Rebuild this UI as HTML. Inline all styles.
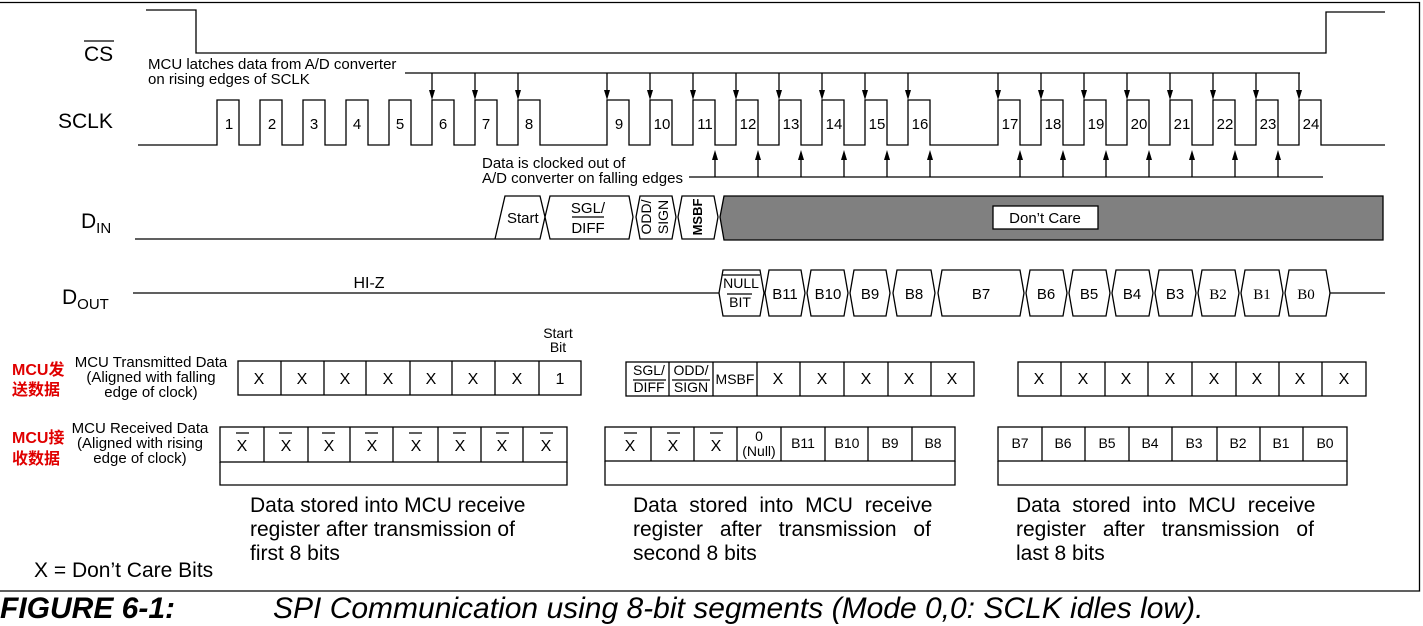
<!DOCTYPE html>
<html><head><meta charset="utf-8"><style>
html,body{margin:0;padding:0;background:#fff;}
svg{display:block;font-family:"Liberation Sans",Arial,sans-serif;}
</style></head><body>
<svg width="1423" height="626" viewBox="0 0 1423 626" xmlns="http://www.w3.org/2000/svg">
<g stroke="#000" stroke-width="1.3" fill="none">
<path d="M0,2.5 H1419.5 V591 H0"/>
<path d="M146,10 H196 V53 H1326 V12 H1385"/>
<path d="M138,145 H217 V100 H239 V145 H260 V100 H282 V145 H303 V100 H325 V145 H346 V100 H368 V145 H389 V100 H411 V145 H432 V100 H454 V145 H475 V100 H497 V145 H518 V100 H540 V145 H607 V100 H629 V145 H650 V100 H672 V145 H693 V100 H715 V145 H736 V100 H758 V145 H779 V100 H801 V145 H822 V100 H844 V145 H865 V100 H887 V145 H908 V100 H930 V145 H998 V100 H1020 V145 H1041 V100 H1063 V145 H1084 V100 H1106 V145 H1127 V100 H1149 V145 H1170 V100 H1192 V145 H1213 V100 H1235 V145 H1256 V100 H1278 V145 H1299 V100 H1321 V145 H1385"/>
<path d="M405,73 H1300 M432,73 V92 M475,73 V92 M518,73 V92 M607,73 V92 M650,73 V92 M693,73 V92 M736,73 V92 M779,73 V92 M822,73 V92 M865,73 V92 M908,73 V92 M998,73 V92 M1041,73 V92 M1084,73 V92 M1127,73 V92 M1170,73 V92 M1213,73 V92 M1256,73 V92 M1299,73 V92"/>
<path d="M689,177 H1323 M715,177 V158 M758,177 V158 M801,177 V158 M844,177 V158 M887,177 V158 M930,177 V158 M1020,177 V158 M1063,177 V158 M1106,177 V158 M1149,177 V158 M1192,177 V158 M1235,177 V158 M1278,177 V158"/>
<path d="M135,239 H495 L505,196 H540 L545,217 L540,239 H495"/>
<polygon points="545,217 550,196 629,196 633,217 629,239 550,239"/>
<polygon points="636,217 640,196 672,196 676,217 672,239 640,239"/>
<polygon points="678,217 682,196 714,196 718,217 714,239 682,239"/>
<polygon points="720,217 724,196 1383,196 1383,240 724,240" fill="#808080"/>
<rect x="993" y="206" width="105" height="23" fill="#fff"/>
<path d="M133,293 H719 M1330,293 H1385"/>
<polygon points="719,293 723,270 760,270 764,293 760,316 723,316"/>
<polygon points="765,293 769,270 801,270 805,293 801,316 769,316"/>
<polygon points="807,293 811,270 844,270 848,293 844,316 811,316"/>
<polygon points="850,293 854,270 886,270 890,293 886,316 854,316"/>
<polygon points="893,293 897,270 931,270 935,293 931,316 897,316"/>
<polygon points="938,293 942,270 1020,270 1024,293 1020,316 942,316"/>
<polygon points="1026,293 1030,270 1063,270 1067,293 1063,316 1030,316"/>
<polygon points="1069,293 1073,270 1106,270 1110,293 1106,316 1073,316"/>
<polygon points="1112,293 1116,270 1149,270 1153,293 1149,316 1116,316"/>
<polygon points="1155,293 1159,270 1192,270 1196,293 1192,316 1159,316"/>
<polygon points="1198,293 1202,270 1235,270 1239,293 1235,316 1202,316"/>
<polygon points="1241,293 1245,270 1279,270 1283,293 1279,316 1245,316"/>
<polygon points="1285,293 1289,270 1326,270 1330,293 1326,316 1289,316"/>
<rect x="238" y="361" width="343" height="34"/>
<path d="M281,361V395M324,361V395M366,361V395M410,361V395M452,361V395M495,361V395M539,361V395"/>
<rect x="626" y="362" width="348" height="34"/>
<path d="M669,362V396M713,362V396M757,362V396M800,362V396M844,362V396M888,362V396M931,362V396"/>
<rect x="1018" y="362" width="348" height="34"/>
<path d="M1061,362V396M1105,362V396M1148,362V396M1192,362V396M1236,362V396M1279,362V396M1322,362V396"/>
<rect x="220" y="427" width="347" height="35"/>
<path d="M264,427V462M308,427V462M350,427V462M393,427V462M438,427V462M481,427V462M523,427V462"/>
<path d="M220,462V485H567V462"/>
<rect x="605" y="427" width="350" height="34"/>
<path d="M651,427V461M694,427V461M737,427V461M781,427V461M825,427V461M868,427V461M912,427V461"/>
<path d="M605,461V485H955V461"/>
<rect x="998" y="427" width="349" height="34"/>
<path d="M1042,427V461M1085,427V461M1129,427V461M1172,427V461M1217,427V461M1260,427V461M1303,427V461"/>
<path d="M998,461V485H1347V461"/>
<path d="M84,41H114 M572,217H604 M722,275H760 M727,294H752 M633,380H666 M672,380H710"/>
<path d="M236,433H249 M279,433H292 M322,433H335 M365,433H378 M409,433H422 M453,433H466 M496,433H509 M540,433H553 M624,433H637 M667,433H680 M710,433H723"/>
</g>
<g fill="#000" stroke="none">
<polygon points="429,90 435,90 432,100"/><polygon points="472,90 478,90 475,100"/><polygon points="515,90 521,90 518,100"/><polygon points="604,90 610,90 607,100"/><polygon points="647,90 653,90 650,100"/><polygon points="690,90 696,90 693,100"/><polygon points="733,90 739,90 736,100"/><polygon points="776,90 782,90 779,100"/><polygon points="819,90 825,90 822,100"/><polygon points="862,90 868,90 865,100"/><polygon points="905,90 911,90 908,100"/><polygon points="995,90 1001,90 998,100"/><polygon points="1038,90 1044,90 1041,100"/><polygon points="1081,90 1087,90 1084,100"/><polygon points="1124,90 1130,90 1127,100"/><polygon points="1167,90 1173,90 1170,100"/><polygon points="1210,90 1216,90 1213,100"/><polygon points="1253,90 1259,90 1256,100"/><polygon points="1296,90 1302,90 1299,100"/>
<polygon points="712,160 718,160 715,150"/><polygon points="755,160 761,160 758,150"/><polygon points="798,160 804,160 801,150"/><polygon points="841,160 847,160 844,150"/><polygon points="884,160 890,160 887,150"/><polygon points="927,160 933,160 930,150"/><polygon points="1017,160 1023,160 1020,150"/><polygon points="1060,160 1066,160 1063,150"/><polygon points="1103,160 1109,160 1106,150"/><polygon points="1146,160 1152,160 1149,150"/><polygon points="1189,160 1195,160 1192,150"/><polygon points="1232,160 1238,160 1235,150"/><polygon points="1275,160 1281,160 1278,150"/>
</g>
<g fill="#000" font-size="21">
<text x="84" y="61">CS</text>
<text x="58" y="128">SCLK</text>
<text x="81" y="228">D<tspan font-size="15" dy="5">IN</tspan></text>
<text x="62" y="304">D<tspan font-size="15" dy="5">OUT</tspan></text>
</g>
<g fill="#000" font-size="15" text-anchor="middle">
<text x="229" y="129">1</text><text x="272" y="129">2</text><text x="314" y="129">3</text><text x="357" y="129">4</text><text x="400" y="129">5</text><text x="443" y="129">6</text><text x="486" y="129">7</text><text x="529" y="129">8</text>
<text x="619" y="129">9</text><text x="662" y="129">10</text><text x="705" y="129">11</text><text x="748" y="129">12</text><text x="791" y="129">13</text><text x="834" y="129">14</text><text x="877" y="129">15</text><text x="920" y="129">16</text>
<text x="1010" y="129">17</text><text x="1053" y="129">18</text><text x="1096" y="129">19</text><text x="1139" y="129">20</text><text x="1182" y="129">21</text><text x="1225" y="129">22</text><text x="1268" y="129">23</text><text x="1311" y="129">24</text>
</g>
<g fill="#000" font-size="15">
<text x="148" y="69">MCU latches data from A/D converter</text>
<text x="148" y="84">on rising edges of SCLK</text>
<text x="482" y="168">Data is clocked out of</text>
<text x="482" y="183">A/D converter on falling edges</text>
<text x="507" y="223">Start</text>
<text x="1045" y="223" text-anchor="middle">Don’t Care</text>
<text x="369" y="288" text-anchor="middle" font-size="16">HI-Z</text>
</g>
<g fill="#000" font-size="15" text-anchor="middle">
<text x="588" y="213">SGL/</text><text x="588" y="233">DIFF</text>
<text transform="translate(651,217) rotate(-90)" font-size="14">ODD/</text>
<text transform="translate(668,217) rotate(-90)" font-size="14">SIGN</text>
<text transform="translate(702,217) rotate(-90)" font-weight="bold" font-size="13">MSBF</text>
<text x="741" y="288" font-size="14">NULL</text><text x="740" y="307" font-size="14">BIT</text>
<text x="785" y="299">B11</text><text x="828" y="299">B10</text><text x="870" y="299">B9</text><text x="914" y="299">B8</text><text x="981" y="299">B7</text><text x="1046" y="299">B6</text><text x="1089" y="299">B5</text><text x="1132" y="299">B4</text><text x="1175" y="299">B3</text><text x="1218" y="299" font-family="Liberation Serif">B2</text><text x="1262" y="299" font-family="Liberation Serif">B1</text><text x="1306" y="299" font-family="Liberation Serif">B0</text>
</g>
<g fill="#000" font-size="16" text-anchor="middle">
<text x="259" y="384">X</text><text x="302" y="384">X</text><text x="345" y="384">X</text><text x="388" y="384">X</text><text x="431" y="384">X</text><text x="473" y="384">X</text><text x="517" y="384">X</text><text x="560" y="384">1</text>
<text x="778" y="384">X</text><text x="822" y="384">X</text><text x="866" y="384">X</text><text x="909" y="384">X</text><text x="952" y="384">X</text>
<text x="1039" y="384">X</text><text x="1083" y="384">X</text><text x="1126" y="384">X</text><text x="1170" y="384">X</text><text x="1214" y="384">X</text><text x="1257" y="384">X</text><text x="1300" y="384">X</text><text x="1344" y="384">X</text>
<text x="242" y="451">X</text><text x="286" y="451">X</text><text x="329" y="451">X</text><text x="372" y="451">X</text><text x="416" y="451">X</text><text x="460" y="451">X</text><text x="502" y="451">X</text><text x="546" y="451">X</text>
<text x="630" y="451">X</text><text x="673" y="451">X</text><text x="716" y="451">X</text>
</g>
<g fill="#000" font-size="14" text-anchor="middle">
<text x="558" y="338">Start</text><text x="558" y="352">Bit</text>
<text x="649" y="375">SGL/</text><text x="649" y="392">DIFF</text>
<text x="691" y="375">ODD/</text><text x="691" y="392">SIGN</text>
<text x="735" y="384">MSBF</text>
<text x="759" y="441">0</text><text x="759" y="456">(Null)</text>
<text x="803" y="448">B11</text><text x="847" y="448">B10</text><text x="890" y="448">B9</text><text x="933" y="448">B8</text>
<text x="1020" y="448">B7</text><text x="1063" y="448">B6</text><text x="1107" y="448">B5</text><text x="1150" y="448">B4</text><text x="1194" y="448">B3</text><text x="1238" y="448">B2</text><text x="1281" y="448">B1</text><text x="1325" y="448">B0</text>
</g>
<g fill="#000" font-size="15" text-anchor="middle">
<text x="151" y="367">MCU Transmitted Data</text><text x="151" y="382">(Aligned with falling</text><text x="151" y="397">edge of clock)</text>
<text x="140" y="433">MCU Received Data</text><text x="140" y="448">(Aligned with rising</text><text x="140" y="463">edge of clock)</text>
</g>
<g fill="#e00000" font-size="16" font-weight="bold" font-family="Liberation Sans, 'Noto Sans CJK SC', sans-serif">
<text x="12" y="375">MCU发</text><text x="12" y="395">送数据</text>
<text x="12" y="443">MCU接</text><text x="12" y="464">收数据</text>
</g>
<g fill="#000" font-size="21">
<text x="250" y="512">Data stored into MCU receive</text>
<text x="250" y="536">register after transmission of</text>
<text x="250" y="560">first 8 bits</text>
<text x="633" y="512" word-spacing="6">Data stored into MCU receive</text>
<text x="633" y="536" word-spacing="11">register after transmission of</text>
<text x="633" y="560">second 8 bits</text>
<text x="1016" y="512" word-spacing="6">Data stored into MCU receive</text>
<text x="1016" y="536" word-spacing="11">register after transmission of</text>
<text x="1016" y="560">last 8 bits</text>
<text x="34" y="577">X = Don’t Care Bits</text>
</g>
<g fill="#000" font-size="30" font-style="italic">
<text x="0" y="618" font-weight="bold">FIGURE 6-1:</text>
<text x="273" y="618">SPI Communication using 8-bit segments (Mode 0,0: SCLK idles low).</text>
</g>
</svg>
</body></html>
